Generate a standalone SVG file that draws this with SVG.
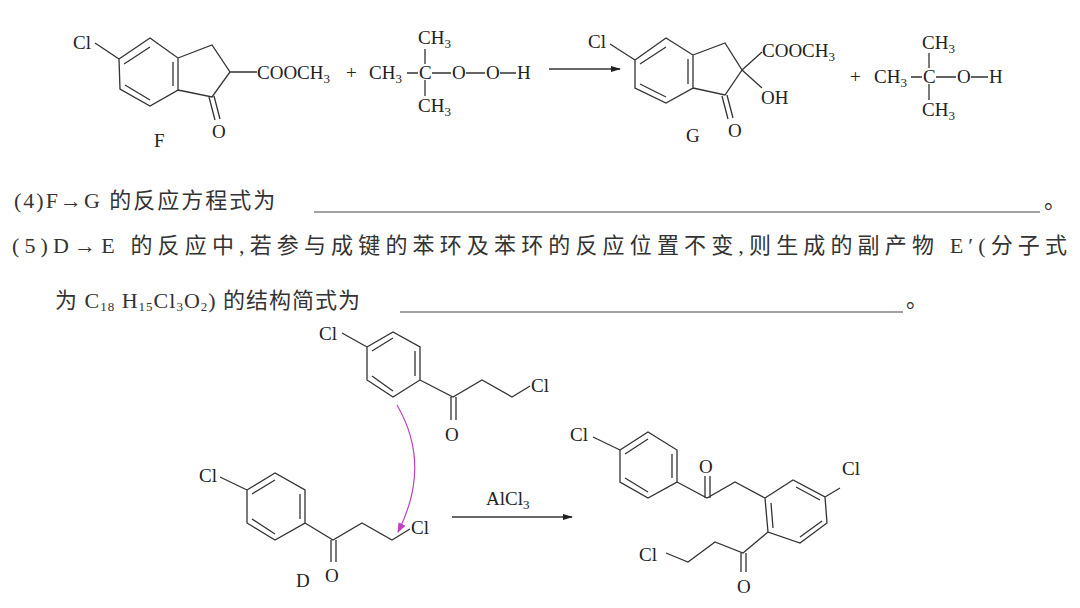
<svg xmlns="http://www.w3.org/2000/svg" width="1080" height="608" viewBox="0 0 1080 608">
<defs>
<style>
.b{stroke:#333;stroke-width:1.3;fill:none}
.t{font-family:"Liberation Serif",serif;font-size:19px;fill:#222}
.s{font-size:13px}
.c{font-family:"Liberation Serif","Noto Sans CJK SC",sans-serif;font-size:22px;fill:#333}
.u{stroke:#444;stroke-width:1.2}
</style>
<marker id="ah" markerWidth="10" markerHeight="8" refX="9" refY="4" orient="auto" markerUnits="userSpaceOnUse"><path d="M0,1 L10,4 L0,7 z" fill="#222"/></marker>
<marker id="mh" markerWidth="10" markerHeight="8" refX="9" refY="4" orient="auto" markerUnits="userSpaceOnUse"><path d="M0,0 L10,4 L0,8 z" fill="#c040c0"/></marker>
</defs>
<rect width="1080" height="608" fill="#fff"/>

<g id="F">
<path class="b" d="M119,59 L150,38 L178,58 L178,90 L150,106 L120,89 Z M95,43 L119,59 M178,58 L212,45 L230,72 L212,97 L178,90 M230,72 L257,72 M124,64 L150,47 M173,62 L173,86 M125,85 L150,100 M209,97 L215,120 M214,96 L220,119"/>
<text class="t" x="73" y="49">Cl</text>
<text class="t" x="257" y="79">COOCH<tspan class="s" dy="4">3</tspan></text>
<text class="t" x="212" y="138">O</text>
<text class="t" x="154" y="147">F</text>
</g>
<text class="t" x="346" y="79">+</text>
<g id="tBuOOH">
<text class="t" x="369" y="79">CH<tspan class="s" dy="4">3</tspan></text>
<text class="t" x="419" y="79">C</text>
<text class="t" x="418" y="44">CH<tspan class="s" dy="4">3</tspan></text>
<text class="t" x="418" y="112">CH<tspan class="s" dy="4">3</tspan></text>
<text class="t" x="452" y="79">O</text>
<text class="t" x="486" y="79">O</text>
<text class="t" x="517" y="79">H</text>
<path class="b" d="M407,73 L418,73 M432,73 L451,73 M466,73 L485,73 M500,73 L516,73 M425,49 L425,64 M425,80 L425,96"/>
</g>
<g id="conn1"><line class="b" x1="549" y1="69" x2="620" y2="69" marker-end="url(#ah)"/></g>

<g id="G">
<path class="b" d="M635,60 L666,38 L693,55 L693,88 L666,103 L635,88 Z M610,44 L635,60 M693,55 L725,43 L742,70 L725,95 L693,88 M742,70 L762,52 M742,70 L762,88 M640,64 L666,47 M688,59 L688,84 M640,84 L666,97 M722,96 L728,119 M727,95 L733,118"/>
<text class="t" x="588" y="48">Cl</text>
<text class="t" x="762" y="57">COOCH<tspan class="s" dy="4">3</tspan></text>
<text class="t" x="761" y="104">OH</text>
<text class="t" x="728" y="137">O</text>
<text class="t" x="686" y="142">G</text>
</g>
<text class="t" x="850" y="83">+</text>
<g id="tBuOH">
<text class="t" x="874" y="83">CH<tspan class="s" dy="4">3</tspan></text>
<text class="t" x="923" y="83">C</text>
<text class="t" x="922" y="49">CH<tspan class="s" dy="4">3</tspan></text>
<text class="t" x="922" y="116">CH<tspan class="s" dy="4">3</tspan></text>
<text class="t" x="957" y="83">O</text>
<text class="t" x="989" y="83">H</text>
<path class="b" d="M911,77 L922,77 M936,77 L956,77 M971,77 L988,77 M929,53 L929,68 M929,84 L929,100"/>
</g>

<g id="q4">
<text class="c" x="14" y="208" letter-spacing="2">(4)F→G 的反应方程式为</text>
<line class="u" x1="314" y1="212" x2="1040" y2="212"/>
<text class="c" x="1044" y="208">。</text>
</g>
<g id="q5">
<text class="c" x="12" y="253" textLength="1055" lengthAdjust="spacing">(5)D→E 的反应中,若参与成键的苯环及苯环的反应位置不变,则生成的副产物 E′(分子式</text>
<text class="c" x="55" y="308" letter-spacing="1">为 C<tspan font-size="13" dy="3">18</tspan><tspan dy="-3"> H</tspan><tspan font-size="13" dy="3">15</tspan><tspan dy="-3">Cl</tspan><tspan font-size="13" dy="3">3</tspan><tspan dy="-3">O</tspan><tspan font-size="13" dy="3">2</tspan><tspan dy="-3">) 的结构简式为</tspan></text>
<line class="u" x1="400" y1="312" x2="903" y2="312"/>
<text class="c" x="906" y="307">。</text>
</g>

<g id="reactant2">
<path class="b" d="M367,347 L393,332 L420,347 L420,380 L393,397 L367,380 Z M342,333 L367,347 M372,351 L393,338 M415,351 L415,376 M372,376 L393,391 M420,380 L453,397 L482,380 L512,397 L530,386 M451,397 L451,420 M456,397 L456,420"/>
<text class="t" x="319" y="340">Cl</text>
<text class="t" x="531" y="392">Cl</text>
<text class="t" x="445" y="441">O</text>
</g>
<g id="D">
<path class="b" d="M247,490 L275,473 L305,490 L305,523 L275,540 L247,523 Z M220,477 L247,490 M252,494 L275,480 M300,494 L300,519 M252,519 L275,534 M305,523 L333,540 L362,523 L392,540 L410,529 M331,540 L331,562 M336,540 L336,562"/>
<text class="t" x="199" y="482">Cl</text>
<text class="t" x="411" y="534">Cl</text>
<text class="t" x="325" y="582">O</text>
<text class="t" x="296" y="587">D</text>
</g>
<g id="connectors">
<path d="M397,405 Q432,465 398,532" stroke="#c040c0" stroke-width="1.2" fill="none" marker-end="url(#mh)"/>
<line class="b" x1="452" y1="517" x2="572" y2="517" marker-end="url(#ah)"/>
<text class="t" x="486" y="505">AlCl<tspan class="s" dy="4">3</tspan></text>
</g>
<g id="product">
<path class="b" d="M620,450 L648,432 L677,450 L677,482 L648,498 L620,482 Z M593,437 L620,450 M625,454 L648,439 M672,454 L672,478 M625,478 L648,492 M677,482 L707,498 L735,482 L765,498 M765,498 L793,480 L825,497 L827,523 L800,543 L768,532 Z M705,498 L705,476 M710,498 L710,476 M771,503 L773,528 M796,487 L820,500 M822,521 L800,537 M825,497 L840,488 M768,532 L743,553 L715,542 L688,562 L666,553 M741,553 L741,572 M746,553 L746,572"/>
<text class="t" x="570" y="441">Cl</text>
<text class="t" x="699" y="473">O</text>
<text class="t" x="842" y="475">Cl</text>
<text class="t" x="639" y="561">Cl</text>
<text class="t" x="737" y="593">O</text>
</g>
</svg>
